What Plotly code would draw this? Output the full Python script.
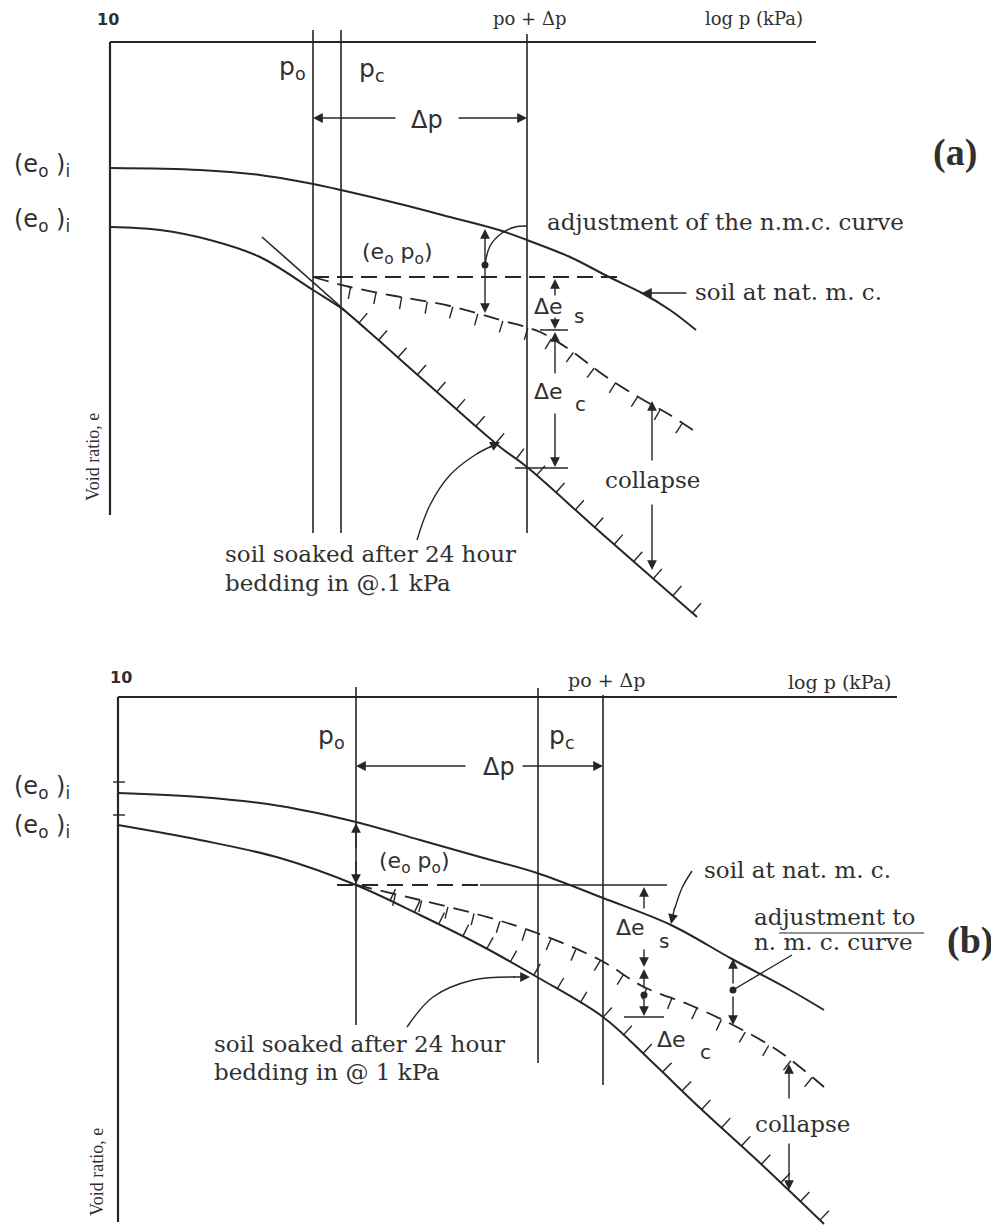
import numpy as np
import plotly.graph_objects as go

INK = "#262626"
TXT = "#303030"
SERIF = "DejaVu Serif"
SANS = "DejaVu Sans"

# page offset of the plot div (browser body margin)
PAGE_OFF = 8

# ---------------- data: panel (a) ----------------
A_ORIGIN = (110, 42)
A_AXIS_END_X = 816
A_AXIS_END_Y = 515
A_VLINES_X = [313, 341, 527]          # p_o, p_c, p_o + dp
A_VLINES_TOP = [30, 30, 34]
A_VLINES_BOT = [533, 533, 533]
A_NMC_X = [110, 200, 260, 313, 341, 400, 450, 499, 527, 570, 609, 642, 670, 696]
A_NMC_Y = [168, 170, 175, 184, 190, 204, 217, 230, 240, 257, 277, 293, 310, 330]
A_SOAK_X = [110, 160, 210, 260, 313, 341, 367, 420, 500, 527, 600, 697]
A_SOAK_Y = [227, 230, 240, 257, 290, 308, 330, 377, 447, 467, 532, 617]
A_ADJ_X = [313, 350, 395, 450, 500, 540, 570, 605, 640, 670, 696]
A_ADJ_Y = [277, 287, 296, 306, 320, 332, 350, 376, 398, 415, 432]
A_TAN_X = [262, 367]
A_TAN_Y = [237, 330]
A_EOPO_X = [313, 622]
A_EOPO_Y = [277, 277]

# ---------------- data: panel (b) ----------------
B_ORIGIN = (118, 697)
B_AXIS_END_X = 897
B_AXIS_END_Y = 1222
B_VLINES_X = [356, 538, 603]
B_VLINES_TOP = [687, 688, 695]
B_VLINES_BOT = [1025, 1063, 1085]
B_NMC_X = [118, 200, 280, 356, 420, 480, 537, 603, 671, 732, 790, 824]
B_NMC_Y = [793, 797, 806, 822, 840, 857, 873, 898, 925, 959, 990, 1010]
B_SOAK_X = [118, 200, 280, 356, 420, 480, 537, 603, 650, 700, 760, 824]
B_SOAK_Y = [825, 840, 858, 885, 915, 945, 977, 1017, 1060, 1108, 1163, 1224]
B_ADJ_X = [356, 420, 480, 537, 600, 644, 690, 733, 780, 824]
B_ADJ_Y = [885, 900, 915, 933, 960, 987, 1005, 1025, 1052, 1087]
B_EOPO_DASH_X = [337, 480]
B_EOPO_SOLID_X = [480, 667]
B_EOPO_Y = 885
B_TICKS_Y = [782, 815]

fig = go.Figure()


def line(xs, ys, width=1.6, dash=None, shape="linear", color=INK):
    fig.add_trace(go.Scatter(x=xs, y=ys, mode="lines", hoverinfo="skip",
                             line=dict(color=color, width=width, dash=dash, shape=shape, smoothing=1.0)))


def hatch(xs, ys, x0, x1, step, length, side, width=1.4):
    xs = np.asarray(xs, float)
    ys = np.asarray(ys, float)
    seg = np.hypot(np.diff(xs), np.diff(ys))
    s = np.concatenate([[0.0], np.cumsum(seg)])
    hx, hy = [], []
    for d in np.arange(step / 2, s[-1], step):
        i = min(int(np.searchsorted(s, d, side="right")) - 1, len(seg) - 1)
        t = (d - s[i]) / seg[i]
        px = xs[i] + t * (xs[i + 1] - xs[i])
        py = ys[i] + t * (ys[i + 1] - ys[i])
        if px < x0 or px > x1:
            continue
        dx = (xs[i + 1] - xs[i]) / seg[i]
        dy = (ys[i + 1] - ys[i]) / seg[i]
        nx, ny = side * dy, -side * dx
        hx += [px, px + nx * length, None]
        hy += [py, py + ny * length, None]
    line(hx, hy, width=width)


annotations = []


def text(x, y, s, size, font=SERIF, xanchor="center", yanchor="middle", bold=False, angle=0):
    annotations.append(dict(x=x, y=y, xref="x", yref="y", text=s, showarrow=False,
                            xanchor=xanchor, yanchor=yanchor, textangle=angle,
                            font=dict(family=font, size=size, color=TXT,
                                      weight="bold" if bold else "normal")))


def arrow(tail, head, size=1.4):
    annotations.append(dict(x=head[0], y=head[1], ax=tail[0], ay=tail[1], xref="x", yref="y",
                            axref="x", ayref="y", showarrow=True, arrowhead=2, arrowsize=size,
                            arrowwidth=1.4, arrowcolor=INK, text="", standoff=0, startstandoff=0))


def dot(x, y):
    fig.add_trace(go.Scatter(x=[x], y=[y], mode="markers", hoverinfo="skip",
                             marker=dict(color=INK, size=7)))


# ================= panel (a) =================
ox, oy = A_ORIGIN
line([ox, A_AXIS_END_X], [oy, oy], width=2.2)
line([ox, ox], [oy, A_AXIS_END_Y], width=2.2)
vx, vy = [], []
for x, t, b in zip(A_VLINES_X, A_VLINES_TOP, A_VLINES_BOT):
    vx += [x, x, None]
    vy += [t, b, None]
line(vx, vy, width=1.6)
line(A_NMC_X, A_NMC_Y, width=2.0, shape="spline")
line(A_SOAK_X, A_SOAK_Y, width=2.0, shape="spline")
line(A_TAN_X, A_TAN_Y, width=1.6)
line(A_EOPO_X, A_EOPO_Y, width=1.8, dash="16px,8px")
line(A_ADJ_X, A_ADJ_Y, width=1.8, dash="16px,9px", shape="spline")
hatch(A_SOAK_X, A_SOAK_Y, 345, 700, 26, 13, +1)
hatch(A_ADJ_X, A_ADJ_Y, 330, 700, 26, 12, -1)

text(108, 19, "10", 16, SANS, bold=True)
text(12, 165, "(e<sub>o</sub> )<sub>i</sub>", 24, SANS, xanchor="left")
text(12, 220, "(e<sub>o</sub> )<sub>i</sub>", 24, SANS, xanchor="left")
text(292, 68, "p<sub>o</sub>", 25, SANS)
text(372, 70, "p<sub>c</sub>", 25, SANS)
text(529, 18, "po + Δp", 18, SERIF)
text(754, 18, "log p (kPa)", 18, SERIF)
text(955, 152, "(a)", 38, "Liberation Serif", bold=True)
text(93, 457, "Void ratio, e", 18, "Liberation Serif", angle=-90)
# delta p
arrow((397, 118), (313, 118))
arrow((457, 118), (527, 118))
text(427, 120, "Δp", 24, SANS)
# (e_o p_o)
text(397, 253, "(e<sub>o</sub> p<sub>o</sub>)", 22, SANS)
# adjustment arrow
arrow((485, 265), (485, 229))
arrow((485, 265), (485, 313))
dot(485, 265)
line([485, 490, 502, 515, 527], [265, 246, 233, 227, 226], width=1.4, shape="spline")
text(545, 222, "adjustment of the n.m.c. curve", 23, SERIF, xanchor="left")
# soil at nat mc
arrow((688, 293), (642, 293))
text(693, 292, "soil at nat. m. c.", 23, SERIF, xanchor="left")
# delta e_s / delta e_c
arrow((555, 297), (555, 279))
arrow((555, 316), (555, 329))
line([540, 568], [330, 330], width=1.5)
text(548, 306, "Δe", 22, SANS)
text(579, 316, "s", 20, SANS)
arrow((555, 375), (555, 332))
arrow((555, 412), (555, 467))
line([515, 568], [468, 468], width=1.5)
text(548, 391, "Δe", 22, SANS)
text(580, 404, "c", 20, SANS)
# collapse
arrow((652, 462), (652, 401))
arrow((652, 503), (652, 570))
text(652, 480, "collapse", 23, SERIF)
# soil soaked
line([417, 430, 450, 475, 492], [540, 505, 475, 455, 446], width=1.4, shape="spline")
arrow((488, 448), (500, 442))
text(223, 554, "soil soaked after 24 hour", 23, SERIF, xanchor="left")
text(223, 583, "bedding in @.1 kPa", 23, SERIF, xanchor="left")

# ================= panel (b) =================
ox, oy = B_ORIGIN
line([ox, B_AXIS_END_X], [oy, oy], width=2.2)
line([ox, ox], [oy, B_AXIS_END_Y], width=2.2)
tx, ty = [], []
for y in B_TICKS_Y:
    tx += [ox - 5, ox + 7, None]
    ty += [y, y, None]
line(tx, ty, width=1.4)
vx, vy = [], []
for x, t, b in zip(B_VLINES_X, B_VLINES_TOP, B_VLINES_BOT):
    vx += [x, x, None]
    vy += [t, b, None]
line(vx, vy, width=1.6)
line(B_NMC_X, B_NMC_Y, width=2.0, shape="spline")
line(B_SOAK_X, B_SOAK_Y, width=2.0, shape="spline")
line(B_EOPO_DASH_X, [B_EOPO_Y, B_EOPO_Y], width=1.8, dash="16px,9px")
line(B_EOPO_SOLID_X, [B_EOPO_Y, B_EOPO_Y], width=1.6)
line(B_ADJ_X, B_ADJ_Y, width=1.8, dash="16px,9px", shape="spline")
hatch(B_SOAK_X, B_SOAK_Y, 385, 830, 27, 13, +1)
hatch(B_ADJ_X, B_ADJ_Y, 370, 830, 27, 12, -1)

text(121, 677, "10", 16, SANS, bold=True)
text(12, 787, "(e<sub>o</sub> )<sub>i</sub>", 24, SANS, xanchor="left")
text(12, 826, "(e<sub>o</sub> )<sub>i</sub>", 24, SANS, xanchor="left")
text(331, 737, "p<sub>o</sub>", 25, SANS)
text(562, 737, "p<sub>c</sub>", 25, SANS)
text(606, 680, "po + Δp", 19, SERIF)
text(840, 682, "log p (kPa)", 19, SERIF)
text(970, 940, "(b)", 38, "Liberation Serif", bold=True)
text(97, 1172, "Void ratio, e", 18, "Liberation Serif", angle=-90)
# delta p
arrow((467, 766), (356, 766))
arrow((521, 766), (603, 766))
text(499, 767, "Δp", 24, SANS)
# (e_o p_o) arrow
arrow((356, 850), (356, 823))
arrow((356, 860), (356, 884))
text(414, 862, "(e<sub>o</sub> p<sub>o</sub>)", 22, SANS)
# soil at nat mc
line([692, 682, 675], [871, 888, 908], width=1.4, shape="spline")
arrow((675, 906), (671, 924))
text(702, 870, "soil at nat. m. c.", 23, SERIF, xanchor="left")
# adjustment to nmc
arrow((733, 985), (733, 959))
arrow((733, 995), (733, 1025))
dot(733, 990)
line([733, 792], [990, 955], width=1.4)
text(752, 917, "adjustment to", 23, SERIF, xanchor="left")
line([779, 924], [933, 933], width=1.2)
text(752, 942, "n. m. c. curve", 23, SERIF, xanchor="left")
# delta e
arrow((644, 910), (644, 887))
text(630, 927, "Δe", 22, SANS)
text(664, 941, "s", 20, SANS)
arrow((644, 948), (644, 967))
arrow((644, 990), (644, 969))
dot(644, 995)
arrow((644, 995), (644, 1016))
line([624, 664], [1017, 1017], width=1.5)
text(671, 1039, "Δe", 22, SANS)
text(705, 1052, "c", 20, SANS)
# collapse
arrow((789, 1100), (789, 1064))
arrow((789, 1142), (789, 1190))
text(802, 1124, "collapse", 23, SERIF)
# soil soaked
line([407, 433, 473, 515], [1027, 997, 980, 977], width=1.4, shape="spline")
arrow((512, 977), (530, 977))
text(212, 1044, "soil soaked after 24 hour", 23, SERIF, xanchor="left")
text(212, 1072, "bedding in @ 1 kPa", 23, SERIF, xanchor="left")

fig.update_layout(
    width=999 - PAGE_OFF, height=1227 - PAGE_OFF, autosize=False,
    margin=dict(l=0, r=0, t=0, b=0, pad=0),
    paper_bgcolor="white", plot_bgcolor="white",
    showlegend=False,
    xaxis=dict(range=[PAGE_OFF, 999], visible=False, fixedrange=True),
    yaxis=dict(range=[1227, PAGE_OFF], visible=False, fixedrange=True),
    annotations=annotations,
)
fig.write_html("out.html")
